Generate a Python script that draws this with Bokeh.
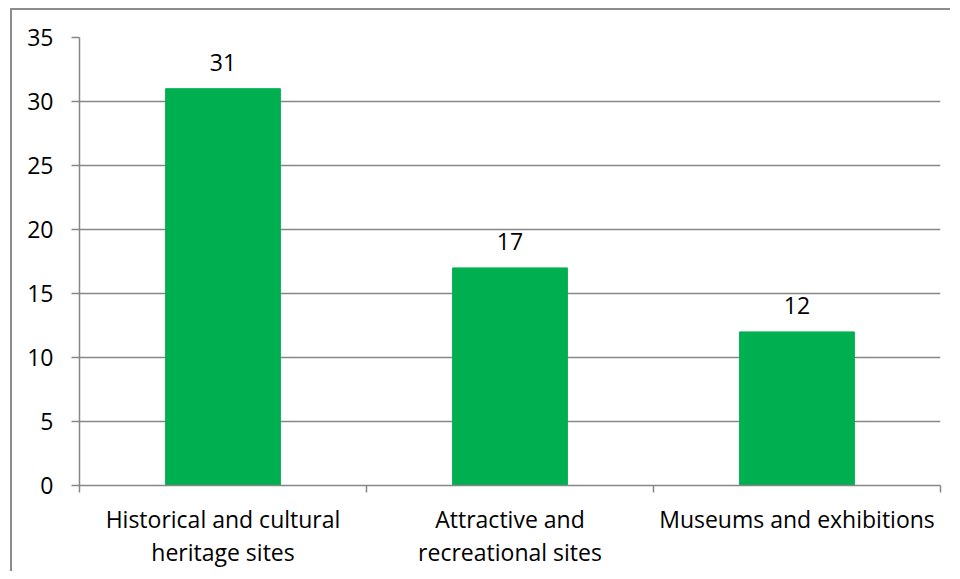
from bokeh.plotting import figure
from bokeh.models import Range1d, FixedTicker, ColumnDataSource, LabelSet
from bokeh.core.properties import value
from bokeh.embed import file_html
from bokeh.resources import INLINE

categories = ["Historical and cultural\nheritage sites", "Attractive and\nrecreational sites", "Museums and exhibitions"]
values = [31, 17, 12]
y_ticks = [0, 5, 10, 15, 20, 25, 30, 35]

FONT = "Open Sans"
GREY = "#868686"
FS = "23px"

xs = [i + 0.5 for i in range(len(categories))]
src = ColumnDataSource(dict(x=xs, top=values, label=[str(v) for v in values]))

p = figure(width=940, height=563, output_backend="svg", toolbar_location=None,
           x_range=Range1d(0, len(categories)), y_range=Range1d(0, 35),
           min_border_left=67, min_border_right=12, min_border_top=27, min_border_bottom=88)
p.styles = {"border-left": "2px solid #8c8c8c", "border-top": "2px solid #8c8c8c",
            "margin-left": "10px", "margin-top": "8px"}
p.outline_line_color = None
p.background_fill_color = "white"
p.border_fill_color = "white"

p.vbar(x="x", top="top", width=0.4, bottom=0, source=src, color="#00b050")

labels = LabelSet(x="x", y="top", text="label", source=src, text_align="center",
                  text_baseline="bottom", y_offset=18, text_font=value(FONT),
                  text_font_size=value(FS), text_color="black")
p.add_layout(labels)

# y axis
p.yaxis.ticker = FixedTicker(ticks=y_ticks)
p.yaxis.axis_line_color = GREY
p.yaxis.axis_line_width = 1.5
p.yaxis.major_tick_line_color = GREY
p.yaxis.major_tick_line_width = 1.5
p.yaxis.major_tick_out = 8
p.yaxis.major_tick_in = 0
p.yaxis.minor_tick_line_color = None
p.yaxis.major_label_standoff = 18
p.yaxis.major_label_text_font = FONT
p.yaxis.major_label_text_font_size = FS
p.yaxis.major_label_text_color = "black"

# x axis
p.xaxis.ticker = FixedTicker(ticks=xs, minor_ticks=list(range(len(categories) + 1)))
p.xaxis.major_label_overrides = {x: c for x, c in zip(xs, categories)}
p.xaxis.axis_line_color = GREY
p.xaxis.axis_line_width = 1.5
p.xaxis.major_tick_line_color = None
p.xaxis.major_tick_out = 7
p.xaxis.minor_tick_line_color = GREY
p.xaxis.minor_tick_line_width = 1.5
p.xaxis.minor_tick_out = 7
p.xaxis.minor_tick_in = 0
p.xaxis.major_label_standoff = 10
p.xaxis.major_label_text_font = FONT
p.xaxis.major_label_text_font_size = FS
p.xaxis.major_label_text_color = "black"
p.xaxis.major_label_text_line_height = 1.05

p.xgrid.grid_line_color = None
p.ygrid.grid_line_color = GREY
p.ygrid.grid_line_width = 1.5
p.ygrid.ticker = FixedTicker(ticks=y_ticks)

open("out.html", "w").write(file_html(p, INLINE))
